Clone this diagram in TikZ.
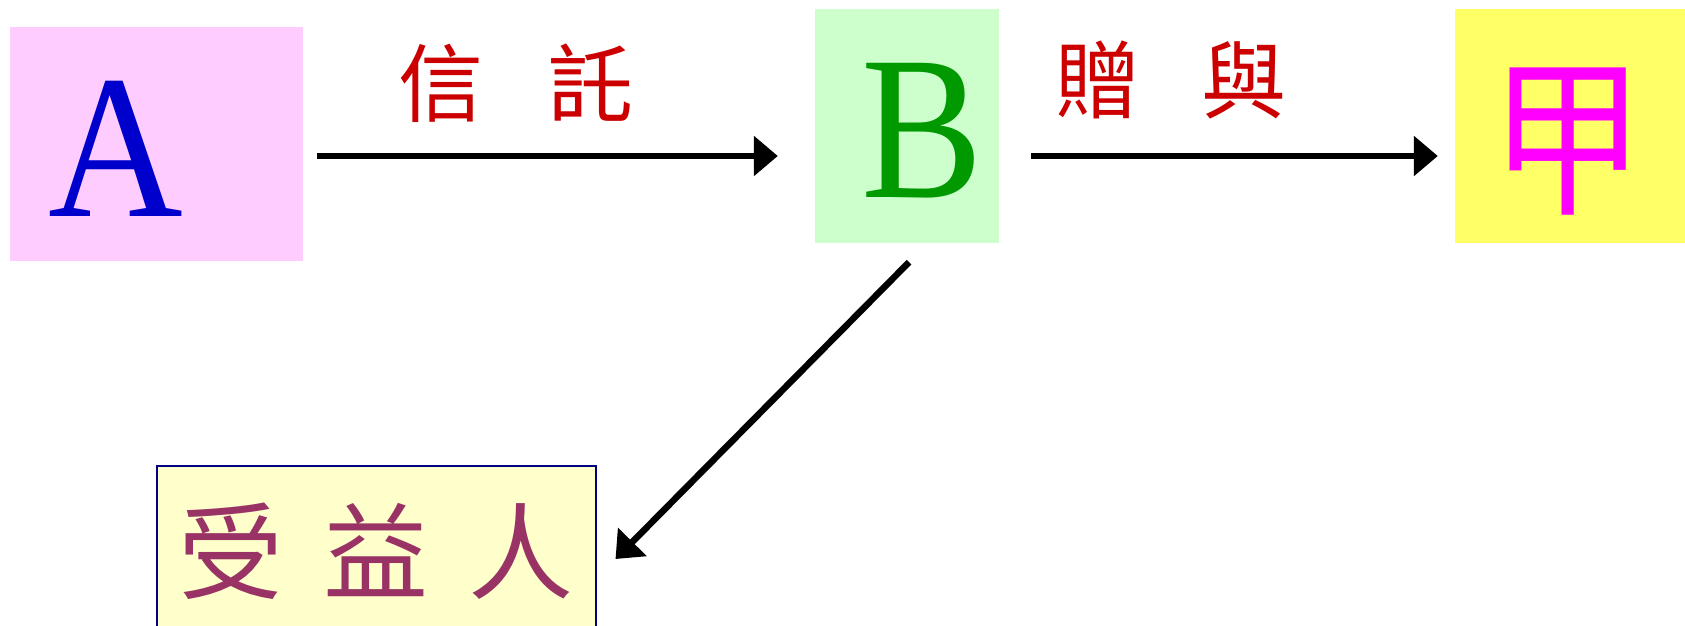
\documentclass[tikz,border=0pt]{standalone}
\usepackage{fontspec}
\setmainfont{Liberation Serif}
\newfontfamily\cjk{Noto Sans CJK TC}
\usepackage{xcolor}
\usepackage{graphicx}
\usetikzlibrary{arrows.meta}

\definecolor{pinkbox}{HTML}{FFCCFF}
\definecolor{greenbox}{HTML}{CCFFCC}
\definecolor{yellowbox}{HTML}{FFFF66}
\definecolor{creambox}{HTML}{FFFFCC}
\definecolor{letterblue}{HTML}{0000CC}
\definecolor{lettergreen}{HTML}{009900}
\definecolor{lettermagenta}{HTML}{FF00FF}
\definecolor{labelred}{HTML}{CC0000}
\definecolor{plum}{HTML}{993366}
\definecolor{navyline}{HTML}{000080}

\begin{document}
\begin{tikzpicture}[x=1pt,y=1pt,
    party/.style={inner sep=0pt,minimum height=234pt},
    bigletter/.style={inner sep=0pt,font=\fontsize{205}{205}\selectfont},
    flow/.style={line width=6.5pt,-{Triangle[length=24pt,width=39pt]}},
    tag/.style={text=labelred,font=\cjk\fontsize{85}{90}\selectfont}]
    \useasboundingbox (0,0) rectangle (1685,625);
    \clip (0,0) rectangle (1685,625);
    % the three parties
    \node[party,fill=pinkbox,minimum width=293pt,minimum height=233pt,
      label={[bigletter,text=letterblue,xshift=-40pt,yshift=-5pt]center:\scalebox{0.91}[1]{A}}]
      (A) at (156,481) {};
    \node[party,fill=greenbox,minimum width=184pt,
      label={[bigletter,text=lettergreen,xshift=15pt,yshift=-5pt]center:\scalebox{0.89}[1]{B}}]
      (B) at (907,499) {};
    \node[party,fill=yellowbox,minimum width=230pt,
      label={[inner sep=0pt,text=lettermagenta,font=\cjk\fontsize{172}{172}\selectfont,
        xshift=-2pt,yshift=-16pt]center:\scalebox{0.9}[1]{甲}}]
      (jia) at (1570,499) {};
    \node[party,fill=creambox,draw=navyline,line width=2pt,minimum width=439pt,
      minimum height=170pt,text=plum,font=\cjk\fontsize{105}{110}\selectfont]
      (ben) at (376,74) {受\hspace{40pt}益\hspace{40pt}人};
    % labels over the arrows
    \node[tag] (trust) at (516,542) {信\hspace{66pt}託};
    \node[tag] (gift) at (1171,545) {贈\hspace{62pt}與};
    % arrows
    \draw[flow,shorten <=14.5pt,shorten >=37pt]
      ([yshift=-12pt]A.east) -- ([yshift=-30pt]B.west);
    \draw[flow,shorten <=32pt,shorten >=17pt]
      ([yshift=-30pt]B.east) -- ([yshift=-30pt]jia.west);
    \draw[flow] ([xshift=2pt,yshift=-19pt]B.south) -- ([xshift=19pt,yshift=-8pt]ben.east);
\end{tikzpicture}
\end{document}
